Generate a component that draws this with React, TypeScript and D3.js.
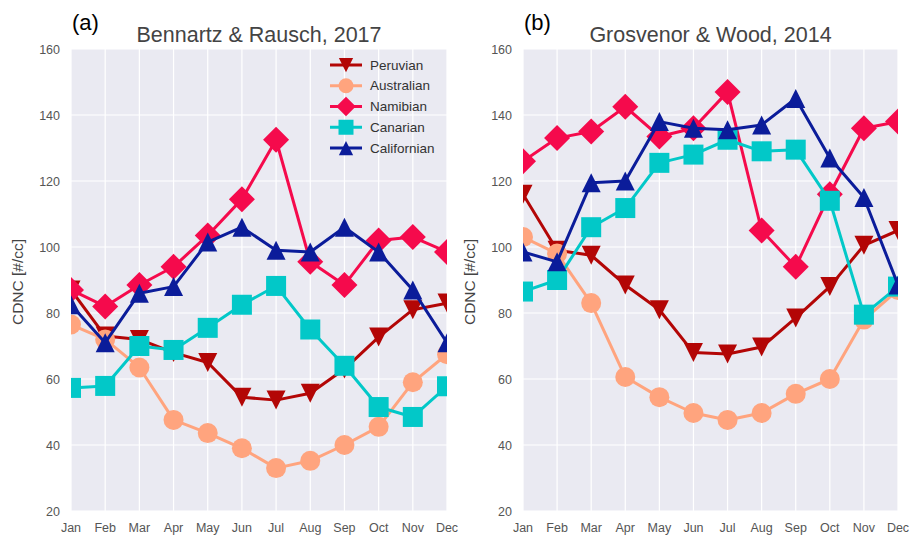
import { useEffect, useRef } from "react";
import * as d3 from "d3";

const months = ["Jan", "Feb", "Mar", "Apr", "May", "Jun", "Jul", "Aug", "Sep", "Oct", "Nov", "Dec"];
const yTicks = [20, 40, 60, 80, 100, 120, 140, 160];
const seriesNames = ["Peruvian", "Australian", "Namibian", "Canarian", "Californian"];
const seriesColors = ["#b30606", "#ffa47e", "#f50a4c", "#02c8c8", "#0b1c9a"];
const seriesMarkers = ["v", "o", "D", "s", "^"];

// Bennartz & Rausch, 2017
const brPeruvian = [87, 73, 72, 68, 65, 54.5, 53.6, 55.7, 63, 72.7, 81, 83];
const brAustralian = [76.5, 72, 63.5, 47.6, 43.6, 39, 33, 35.2, 40, 45.5, 59, 67.5];
const brNamibian = [87, 82, 88.5, 94, 103.5, 114.5, 132.5, 95.5, 88.5, 102, 103, 98.5];
const brCanarian = [57.3, 57.9, 70, 68.8, 75.5, 82.5, 88.2, 75, 64, 51.5, 48.5, 57.8];
const brCalifornian = [82.5, 71, 86, 88, 101.5, 106, 99, 98.5, 106, 98.5, 87, 71];

// Grosvenor & Wood, 2014
const gwPeruvian = [116, 99, 97.5, 88.5, 81, 68, 67.6, 69.7, 78.5, 88, 100.5, 105];
const gwAustralian = [103, 98, 83, 60.6, 54.5, 49.7, 47.6, 49.7, 55.5, 60, 78, 87];
const gwNamibian = [126, 133, 135, 142.5, 133.5, 136, 147, 105, 94, 116, 136, 138];
const gwCanarian = [86.5, 90, 106, 111.8, 125.5, 128, 132.5, 129, 129.5, 114, 79.5, 88];
const gwCalifornian = [98.5, 95.5, 119.5, 120, 138, 136, 135.5, 137, 145, 127, 115, 88.5];

const panels = [
  { tag: "(a)", title: "Bennartz & Rausch, 2017", left: 71, right: 447, series: [brPeruvian, brAustralian, brNamibian, brCanarian, brCalifornian], legend: true },
  { tag: "(b)", title: "Grosvenor & Wood, 2014", left: 523, right: 898, series: [gwPeruvian, gwAustralian, gwNamibian, gwCanarian, gwCalifornian], legend: false },
];

function markerPath(type: string, k = 1) {
  if (type === "o") {
    const r = 10 * k;
    return `M${r},0A${r},${r} 0 1,1 ${-r},0A${r},${r} 0 1,1 ${r},0Z`;
  }
  if (type === "s") {
    const s = 10 * k;
    return `M${-s},${-s}H${s}V${s}H${-s}Z`;
  }
  if (type === "D") {
    const d = 13 * k;
    return `M0,${-d}L${d},0L0,${d}L${-d},0Z`;
  }
  const t = 9.5 * k;
  if (type === "^") return `M0,${-t}L${t},${t}L${-t},${t}Z`;
  return `M0,${t}L${t},${-t}L${-t},${-t}Z`;
}

export default function App() {
  const svgRef = useRef<SVGSVGElement | null>(null);

  useEffect(() => {
    if (!svgRef.current) return;
    const width = 918;
    const height = 535;
    const top = 49;
    const bottom = 511;
    const font = "'Liberation Sans', Arial, sans-serif";

    const svg = d3.select(svgRef.current);
    svg.selectAll("*").remove();
    svg.attr("width", width).attr("height", height);
    svg.append("rect").attr("width", width).attr("height", height).attr("fill", "#fff");

    const y = d3.scaleLinear().domain([20, 160]).range([bottom, top]);

    panels.forEach((p, pi) => {
      const x = d3.scalePoint<string>().domain(months).range([p.left, p.right]);
      const g = svg.append("g");

      const clipId = `clip-${pi}`;
      g.append("clipPath").attr("id", clipId)
        .append("rect")
        .attr("x", p.left).attr("y", top)
        .attr("width", p.right - p.left).attr("height", bottom - top);

      g.append("rect")
        .attr("x", p.left).attr("y", top)
        .attr("width", p.right - p.left).attr("height", bottom - top)
        .attr("fill", "#eaeaf2");

      g.selectAll("line.vgrid")
        .data(months)
        .enter()
        .append("line")
        .attr("x1", d => x(d)!).attr("x2", d => x(d)!)
        .attr("y1", top).attr("y2", bottom)
        .attr("stroke", "#fff").attr("stroke-width", 1.2);

      g.selectAll("line.hgrid")
        .data(yTicks)
        .enter()
        .append("line")
        .attr("x1", p.left).attr("x2", p.right)
        .attr("y1", d => y(d)).attr("y2", d => y(d))
        .attr("stroke", "#fff").attr("stroke-width", 1.2);

      g.selectAll("text.ytick")
        .data(yTicks)
        .enter()
        .append("text")
        .attr("x", p.left - 11)
        .attr("y", d => y(d) + 4.5)
        .attr("text-anchor", "end")
        .attr("font-family", font)
        .attr("font-size", 12.5)
        .attr("fill", "#555")
        .text(d => d);

      g.selectAll("text.xtick")
        .data(months)
        .enter()
        .append("text")
        .attr("x", d => x(d)!)
        .attr("y", 532)
        .attr("text-anchor", "middle")
        .attr("font-family", font)
        .attr("font-size", 12.5)
        .attr("fill", "#555")
        .text(d => d);

      const labelX = p.left - 48;
      g.append("text")
        .attr("transform", `translate(${labelX},282) rotate(-90)`)
        .attr("text-anchor", "middle")
        .attr("font-family", font)
        .attr("font-size", 15.5)
        .attr("fill", "#444")
        .text("CDNC [#/cc]");

      g.append("text")
        .attr("x", (p.left + p.right) / 2)
        .attr("y", 42)
        .attr("text-anchor", "middle")
        .attr("font-family", font)
        .attr("font-size", 21.5)
        .attr("fill", "#444")
        .text(p.title);

      g.append("text")
        .attr("x", p.left + 1)
        .attr("y", 30)
        .attr("font-family", font)
        .attr("font-size", 22)
        .attr("fill", "#000")
        .text(p.tag);

      const plot = g.append("g").attr("clip-path", `url(#${clipId})`);
      const line = d3.line<number>()
        .x((_, i) => x(months[i])!)
        .y(d => y(d));

      p.series.forEach((vals, si) => {
        const sg = plot.append("g");
        sg.append("path")
          .attr("d", line(vals)!)
          .attr("fill", "none")
          .attr("stroke", seriesColors[si])
          .attr("stroke-width", 3)
          .attr("stroke-linejoin", "round");
        sg.selectAll("path.marker")
          .data(vals)
          .enter()
          .append("path")
          .attr("class", "marker")
          .attr("transform", (d, i) => `translate(${x(months[i])},${y(d)})`)
          .attr("d", markerPath(seriesMarkers[si]))
          .attr("fill", seriesColors[si]);
      });

      if (p.legend) {
        const lg = g.append("g");
        const rowY = d3.scalePoint<string>().domain(seriesNames).range([65, 148]);
        seriesNames.forEach((name, si) => {
          const cy = rowY(name)!;
          lg.append("line")
            .attr("x1", 330).attr("x2", 362)
            .attr("y1", cy).attr("y2", cy)
            .attr("stroke", seriesColors[si]).attr("stroke-width", 3);
          lg.append("path")
            .attr("transform", `translate(346,${cy})`)
            .attr("d", markerPath(seriesMarkers[si], 0.75))
            .attr("fill", seriesColors[si]);
          lg.append("text")
            .attr("x", 370)
            .attr("y", cy + 4.5)
            .attr("font-family", font)
            .attr("font-size", 13.5)
            .attr("fill", "#333")
            .text(name);
        });
      }
    });
  }, []);

  return <svg ref={svgRef} style={{ position: "absolute", left: 0, top: 0, display: "block" }} />;
}
